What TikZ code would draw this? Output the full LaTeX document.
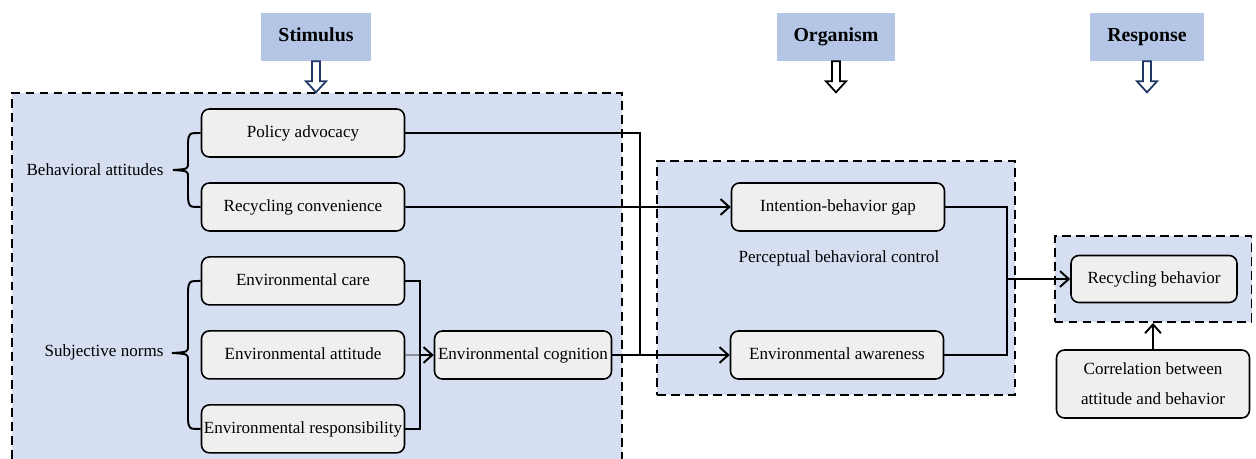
\documentclass[tikz,border=0pt]{standalone}
\usepackage{fontspec}
\setmainfont{Liberation Serif}
\usepackage{tikz}
\usetikzlibrary{positioning}
\usetikzlibrary{arrows.meta}
\usepackage{xcolor}

\definecolor{regionblue}{HTML}{D6DEF2}
\definecolor{headblue}{HTML}{B4C5E6}
\definecolor{boxgray}{HTML}{EFEFEF}
\definecolor{navy}{HTML}{1F3864}

\tikzset{
  box/.style={draw, line width=0.9pt, rounded corners=4.5pt, fill=boxgray,
    minimum width=4.06cm, minimum height=0.96cm, inner sep=1pt,
    text height=1.6ex, text depth=0.45ex},
  hdr/.style={fill=headblue, minimum height=0.96cm, inner xsep=0.34cm,
    text height=1.6ex, text depth=0.45ex,
    font=\fontsize{11.3}{13}\selectfont\bfseries},
  frame/.style={line width=1.1pt, dash pattern=on 5pt off 3pt},
  link/.style={line width=1.1pt},
  hollowdown/.pic={
    \draw[line width=1pt, fill=white, pic actions]
      (-4,0) -- (-4,20) -- (-10,20) -- (0,31) -- (10,20) -- (4,20) -- (4,0) -- cycle;
  }
}

\begin{document}
\begin{tikzpicture}[x=0.02cm, y=-0.02cm, >={Straight Barb[length=5pt,width=9pt]},
  font=\fontsize{9.7}{11.6}\selectfont]
  \useasboundingbox (0,0) rectangle (1256,459);

  % Dashed regions
  \fill[regionblue] (12,93) rectangle (622,459);
  \draw[frame] (12,459) -- (12,93) -- (622,93) -- (622,459);
  \node[frame, draw, fill=regionblue, minimum width=7.16cm, minimum height=4.68cm] (oframe) at (836,278) {};
  \node[frame, draw, fill=regionblue, minimum width=3.94cm, minimum height=1.72cm] (rframe) at (1153,279) {};

  % Stage headers with hollow arrows
  \foreach \nm/\x/\col in {Stimulus/316/navy, Organism/836/black, Response/1147/navy} {
    \node[hdr] (h\nm) at (\x,37) {\nm};
    \pic[draw=\col] at (h\nm.south) {hollowdown};
  }

  % Stimulus boxes
  \node[box] (pa) at (303,133) {Policy advocacy};
  \node[box, below=0.488cm of pa] (rc) {Recycling convenience};
  \node[box, below=0.488cm of rc] (ecare) {Environmental care};
  \node[box, below=0.488cm of ecare] (eatt) {Environmental attitude};
  \node[box, below=0.488cm of eatt] (eresp) {Environmental responsibility};
  \node[box, minimum width=3.54cm] (ecog) at (523,355) {Environmental cognition};

  \node (ba) at (95,170) {Behavioral attitudes};
  \node (sn) at (104,352) {Subjective norms};
  % curly brackets
  \draw[link] (pa.west) .. controls (189,133) .. (188,142) -- (188,163)
    .. controls (188,169) .. (173,170) .. controls (188,171) .. (188,177)
    -- (188,198) .. controls (189,207) .. (rc.west);
  \draw[link] (ecare.west) .. controls (189,281) .. (188,290) -- (188,346)
    .. controls (188,352) .. (172,353) .. controls (188,354) .. (188,360)
    -- (188,420) .. controls (189,429) .. (eresp.west);

  % Organism boxes
  \node[box, minimum width=4.26cm] (gap) at (838,207) {Intention-behavior gap};
  \node (pbc) at (839,258) {Perceptual behavioral control};
  \node[box, minimum width=4.26cm] (aware) at (837,355) {Environmental awareness};

  % Response boxes
  \node[box, minimum width=3.32cm, minimum height=0.94cm] (rb) at (1154,279) {Recycling behavior};
  \node[box, minimum width=3.86cm, minimum height=1.36cm, align=center,
    text height=, text depth=,
    font=\fontsize{9.7}{17}\selectfont] (corr) at (1153,384) {Correlation between\\attitude and behavior};

  % Connectors
  \coordinate (j1) at (640,355);
  \coordinate (j2) at (420,355);
  \coordinate (j3) at (1007,279);
  \draw[link] (pa.east) -| (j1);
  \draw[link, ->] (ecog.east) -- (aware.west);
  \draw[link, ->] (rc.east) -- (gap.west);
  \draw[link] (ecare.east) -| (j2) |- (eresp.east);
  \draw[thin] (eatt.east) -- (j2);
  \draw[link, ->] (j2) -- (ecog.west);
  \draw[link] (gap.east) -| (j3) |- (aware.east);
  \draw[link, ->] (j3) -- (rb.west);
  \draw[link, ->] (corr.north) -- (rframe.south);
\end{tikzpicture}
\end{document}
